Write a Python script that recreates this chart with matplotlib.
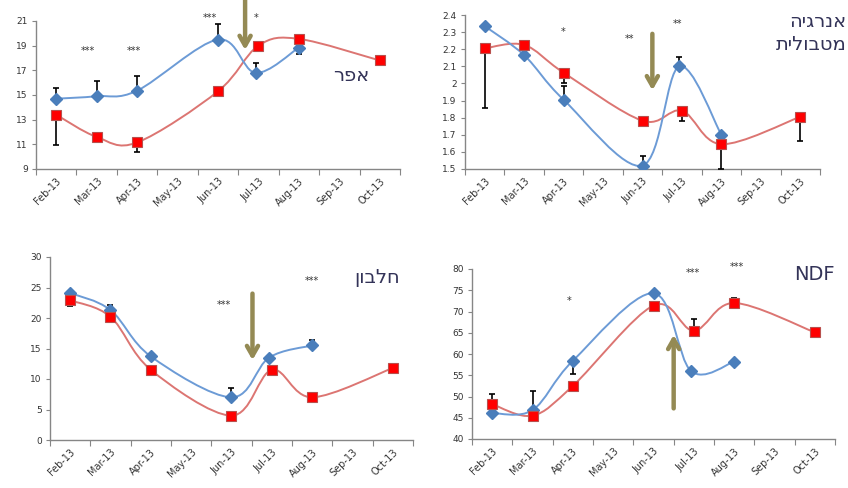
import numpy as np
import matplotlib
matplotlib.use('Agg')
from matplotlib import pyplot as plt
from matplotlib.path import Path
from matplotlib.patches import PathPatch

months = ['Feb-13', 'Mar-13', 'Apr-13', 'May-13', 'Jun-13', 'Jul-13', 'Aug-13', 'Sep-13', 'Oct-13']

# x = month index (0 = Feb-13)
blue_x = [0, 1, 2, 4, 4.93, 6]
red_x = [0, 1, 2, 4, 5, 6, 8]

# ash (אפר)
ash_blue = [14.7, 14.9, 15.35, 19.5, 16.8, 18.85]
ash_blue_lo = [0, 0, 0, 0, 0, 0.5]
ash_blue_hi = [0.83, 1.22, 1.2, 1.23, 0.8, 0]
ash_red = [13.4, 11.6, 11.15, 15.3, 19.0, 19.55, 17.8]
ash_red_lo = [2.45, 0.45, 0.8, 0, 0, 0, 0]
ash_red_hi = [0, 0, 0, 0, 0, 0, 0]
ash_stars = [('***', 0.79, 18.6), ('***', 1.92, 18.6), ('***', 3.8, 21.25), ('*', 4.94, 21.25)]

# metabolic energy (אנרגיה מטבולית)
me_blue = [2.335, 2.165, 1.905, 1.52, 2.10, 1.70]
me_blue_lo = [0, 0, 0, 0, 0, 0]
me_blue_hi = [0, 0, 0.08, 0.055, 0.055, 0]
me_red = [2.205, 2.225, 2.063, 1.782, 1.84, 1.645, 1.805]
me_red_lo = [0.35, 0, 0.06, 0, 0.06, 0.145, 0.14]
me_red_hi = [0, 0, 0, 0, 0, 0, 0]
me_stars = [('*', 1.98, 2.30), ('**', 3.67, 2.26), ('**', 4.89, 2.35)]

# protein (חלבון)
pr_blue = [24.1, 21.3, 13.7, 7.0, 13.5, 15.5]
pr_blue_lo = [0, 0, 0, 0, 0, 0]
pr_blue_hi = [0.4, 0.8, 0, 1.6, 0, 0.9]
pr_red = [22.9, 20.2, 11.5, 4.0, 11.5, 7.0, 11.8]
pr_red_lo = [0.9, 0, 0, 0, 0, 0, 0]
pr_red_hi = [0, 0, 0, 0, 0, 0, 0]
pr_stars = [('***', 3.81, 22.2), ('***', 6.0, 26.1)]

# NDF
ndf_blue = [46.1, 46.8, 58.4, 74.3, 56.0, 58.2]
ndf_blue_lo = [0, 0, 3.2, 0, 0, 0]
ndf_blue_hi = [0, 4.6, 0, 0, 0, 0]
ndf_red = [48.2, 45.5, 52.5, 71.4, 65.5, 72.0, 65.1]
ndf_red_lo = [0, 0, 0, 0, 0, 0, 0]
ndf_red_hi = [2.4, 0, 0, 0, 2.8, 1.2, 0]
ndf_stars = [('*', 1.9, 72.4), ('***', 4.98, 79.1), ('***', 6.07, 80.5)]

BLUE_LINE = '#6C9BD6'
BLUE_MARK = '#4A7EBB'
RED_LINE = '#DC7572'
RED_FACE = '#FF0000'
RED_EDGE = '#B8504D'
ARROW = '#948A54'
LABEL = '#333358'
W, H = 848, 488


def smooth_line(ax, x, y, color):
    # Excel-style smoothed line: cubic Bezier through the points (Catmull-Rom)
    p = np.column_stack([x, y]).astype(float)
    verts = [p[0]]
    codes = [Path.MOVETO]
    n = len(p)
    for i in range(n - 1):
        p0 = p[i - 1] if i > 0 else p[i]
        p3 = p[i + 2] if i + 2 < n else p[i + 1]
        c1 = p[i] + (p[i + 1] - p0) / 6.0
        c2 = p[i + 1] - (p3 - p[i]) / 6.0
        verts += [c1, c2, p[i + 1]]
        codes += [Path.CURVE4] * 3
    ax.add_patch(PathPatch(Path(verts, codes), fill=False, edgecolor=color, lw=1.4, zorder=2))


def make_axes(fig, left, top, right, bottom):
    return fig.add_axes([left / W, 1 - bottom / H, (right - left) / W, (bottom - top) / H])


def draw_panel(ax, blue, blo, bhi, red, rlo, rhi, ylim, ystep, stars):
    smooth_line(ax, red_x, red, RED_LINE)
    smooth_line(ax, blue_x, blue, BLUE_LINE)
    ax.errorbar(red_x, red, yerr=[rlo, rhi], fmt='none', ecolor='black', elinewidth=1.2,
                capsize=2.5, capthick=1.2, zorder=3)
    ax.errorbar(blue_x, blue, yerr=[blo, bhi], fmt='none', ecolor='black', elinewidth=1.2,
                capsize=2.5, capthick=1.2, zorder=3)
    ax.plot(blue_x, blue, ls='none', marker='D', ms=6, color=BLUE_MARK, zorder=4)
    ax.plot(red_x, red, ls='none', marker='s', ms=7.5, mfc=RED_FACE, mec=RED_EDGE, mew=0.8, zorder=5)

    for s, sx, sy in stars:
        ax.text(sx, sy, s, ha='center', va='center', fontsize=7, color='#333333',
                zorder=6, clip_on=False)

    ax.set_xlim(-0.5, 8.5)
    ax.set_ylim(*ylim)
    ax.set_xticks(np.arange(-0.5, 9, 1))
    ax.set_xticklabels([])
    ax.set_xticks(np.arange(len(months)), minor=True)
    ax.set_xticklabels(months, minor=True, rotation=45, ha='right', rotation_mode='anchor',
                       fontsize=7, color='#333333')
    ax.tick_params(axis='x', which='major', length=4, width=0.8, color='#868686')
    ax.tick_params(axis='x', which='minor', length=0, pad=5)
    ticks = np.arange(ylim[0], ylim[1] + ystep / 2, ystep)
    ax.set_yticks(ticks)
    ax.set_yticklabels(['%g' % round(t, 2) for t in ticks], fontsize=6.5, color='#333333')
    ax.tick_params(axis='y', length=3, width=0.8, color='#868686', pad=3)
    for side in ['top', 'right']:
        ax.spines[side].set_visible(False)
    for side in ['left', 'bottom']:
        ax.spines[side].set_color('#868686')
        ax.spines[side].set_linewidth(1.0)
    ax.set_facecolor('none')


def draw_arrow(ax, x, y_tail, y_tip):
    ax.annotate('', xy=(x, y_tip), xytext=(x, y_tail), annotation_clip=False,
                arrowprops=dict(arrowstyle='->,head_length=0.7,head_width=0.4',
                                color=ARROW, lw=3.2, shrinkA=0, shrinkB=0), zorder=7)


def rtl(s):
    # matplotlib lays glyphs out left to right, so Hebrew is given in visual order
    return '\n'.join(line[::-1] for line in s.split('\n'))


fig = plt.figure(figsize=(W / 100, H / 100), dpi=100)
fig.patch.set_facecolor('white')

ax1 = make_axes(fig, 36, 21, 400, 169)
draw_panel(ax1, ash_blue, ash_blue_lo, ash_blue_hi, ash_red, ash_red_lo, ash_red_hi,
           (9, 21), 2, ash_stars)
draw_arrow(ax1, 4.67, 22.7, 18.65)
ax1.text(0.865, 0.63, rtl('אפר'), transform=ax1.transAxes, ha='center', va='center',
         fontsize=14, color=LABEL, family='DejaVu Sans')

ax2 = make_axes(fig, 465, 15, 820, 169)
draw_panel(ax2, me_blue, me_blue_lo, me_blue_hi, me_red, me_red_lo, me_red_hi,
           (1.5, 2.4), 0.1, me_stars)
draw_arrow(ax2, 4.25, 2.29, 1.96)
ax2.text(1.075, 1.02, rtl('אנרגיה\nמטבולית'), transform=ax2.transAxes, ha='right', va='top',
         multialignment='right', fontsize=14, color=LABEL, linespacing=1.25, family='DejaVu Sans')

ax3 = make_axes(fig, 50, 257, 413, 440)
draw_panel(ax3, pr_blue, pr_blue_lo, pr_blue_hi, pr_red, pr_red_lo, pr_red_hi,
           (0, 30), 5, pr_stars)
draw_arrow(ax3, 4.52, 24.0, 13.1)
ax3.text(0.9, 0.89, rtl('חלבון'), transform=ax3.transAxes, ha='center', va='center',
         fontsize=14, color=LABEL, family='DejaVu Sans')

ax4 = make_axes(fig, 472, 269, 835, 439)
draw_panel(ax4, ndf_blue, ndf_blue_lo, ndf_blue_hi, ndf_red, ndf_red_lo, ndf_red_hi,
           (40, 80), 5, ndf_stars)
draw_arrow(ax4, 4.5, 47.2, 64.5)
ax4.text(1.0, 0.965, 'NDF', transform=ax4.transAxes, ha='right', va='center',
         fontsize=14, color=LABEL)

fig.savefig('out.png', dpi=100)
